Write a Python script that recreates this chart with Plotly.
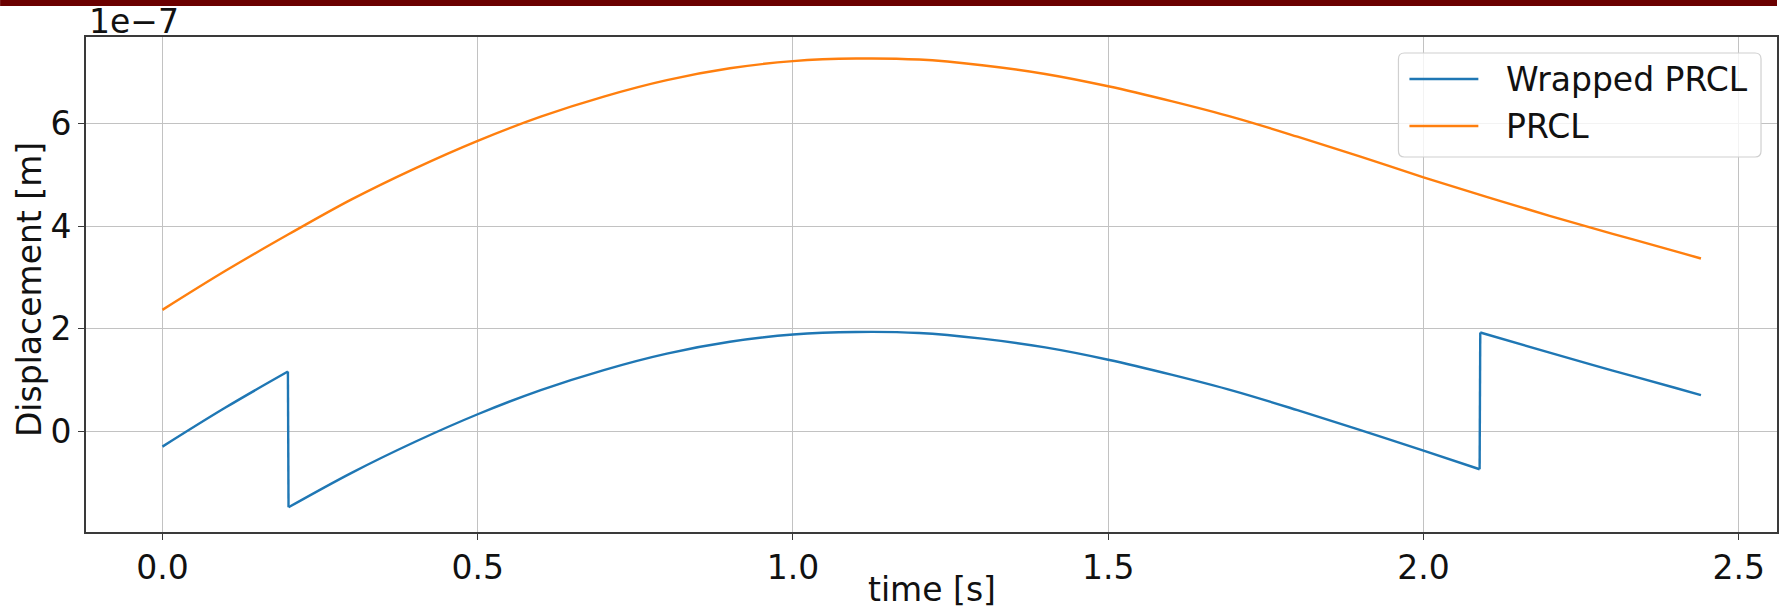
import plotly.graph_objects as go

# ---- data (displacement in units of 1e-7 m) ----
time_s = [0.0, 0.1, 0.2, 0.3, 0.4, 0.5, 0.6, 0.7, 0.8, 0.9, 1.0, 1.1, 1.2,
          1.3, 1.4, 1.5, 1.6, 1.7, 1.8, 1.9, 2.0, 2.1, 2.2, 2.3, 2.4, 2.44]
prcl_e7 = [2.37, 3.13, 3.84, 4.52, 5.12, 5.66, 6.13, 6.52, 6.84, 7.07, 7.21, 7.26, 7.24,
           7.13, 6.96, 6.72, 6.43, 6.11, 5.74, 5.35, 4.95, 4.57, 4.20, 3.85, 3.51, 3.37]

wrapped_time_s = [0.0, 0.1, 0.199, 0.2, 0.3, 0.4, 0.5, 0.6, 0.7, 0.8, 0.9, 1.0, 1.1,
                  1.2, 1.3, 1.4, 1.5, 1.6, 1.7, 1.8, 1.9, 2.0, 2.089, 2.09, 2.2, 2.3,
                  2.4, 2.44]
wrapped_e7 = [-0.29, 0.47, 1.17, -1.47, -0.80, -0.20, 0.34, 0.81, 1.20, 1.52, 1.75, 1.89, 1.94,
              1.92, 1.81, 1.64, 1.40, 1.11, 0.79, 0.42, 0.03, -0.37, -0.73, 1.93, 1.54, 1.19,
              0.85, 0.71]

SCALE = 1e-7
x_ticks = [0.0, 0.5, 1.0, 1.5, 2.0, 2.5]
y_ticks = [0, 2, 4, 6]

BLUE = "#1f77b4"
ORANGE = "#ff7f0e"
FONT = "DejaVu Sans"
FS = 33
LW = 2.4

# ---- page geometry (pixels) ----
W, H = 1779, 610
L, R, T, B = 86, 1779, 37, 532
PW, PH = R - L, B - T


def paper(x, y):
    return (x - L) / PW, (B - y) / PH


fig = go.Figure()

# the wrapped signal: smooth pieces between the phase jumps, straight jump segments
jumps = [i for i in range(1, len(wrapped_e7))
         if abs(wrapped_e7[i] - wrapped_e7[i - 1]) > 2.0]
bounds = [0] + jumps + [len(wrapped_e7)]
for k in range(len(bounds) - 1):
    a, b = bounds[k], bounds[k + 1]
    fig.add_trace(go.Scatter(x=wrapped_time_s[a:b], y=[v * SCALE for v in wrapped_e7[a:b]],
                             mode="lines", name="Wrapped PRCL", line_shape="spline",
                             line=dict(color=BLUE, width=LW), showlegend=False))
for j in jumps:
    fig.add_trace(go.Scatter(x=wrapped_time_s[j - 1:j + 1],
                             y=[v * SCALE for v in wrapped_e7[j - 1:j + 1]],
                             mode="lines", name="Wrapped PRCL",
                             line=dict(color=BLUE, width=LW), showlegend=False))

fig.add_trace(go.Scatter(x=time_s, y=[v * SCALE for v in prcl_e7],
                         mode="lines", name="PRCL", line_shape="spline",
                         line=dict(color=ORANGE, width=LW), showlegend=False))

axis_common = dict(
    showgrid=True, gridcolor="#c2c2c2", gridwidth=1.2,
    zeroline=False, showline=True, linecolor="#3a3a3a", linewidth=1.6,
    mirror=True, ticks="outside", ticklen=6, tickwidth=1.4, tickcolor="#3a3a3a",
    tickfont=dict(family=FONT, size=FS, color="#111111"),
)

fig.update_xaxes(range=[-0.1212, 2.5606], tickvals=x_ticks,
                 ticktext=[f"{t:.1f}" for t in x_ticks], **axis_common)
fig.update_yaxes(range=[-1.951 * SCALE, 7.679 * SCALE],
                 tickvals=[v * SCALE for v in y_ticks],
                 ticktext=[str(v) for v in y_ticks], **axis_common)

shapes = []
annotations = []

# dark band along the top edge
x0, _ = paper(0, 0)
x1, _ = paper(W, 0)
_, yb0 = paper(0, 6)
_, yb1 = paper(0, 0)
shapes.append(dict(type="rect", xref="paper", yref="paper", x0=x0, x1=x1, y0=yb0, y1=yb1,
                   fillcolor="#6b0000", line=dict(width=0), layer="above"))

# legend frame with rounded corners
lx0, ly0, lx1, ly1, rad = 1400, 53, 1763, 157, 6


def P(x, y):
    a, b = paper(x, y)
    return f"{a:.6f},{b:.6f}"


path = (f"M{P(lx0 + rad, ly0)} L{P(lx1 - rad, ly0)} Q{P(lx1, ly0)} {P(lx1, ly0 + rad)} "
        f"L{P(lx1, ly1 - rad)} Q{P(lx1, ly1)} {P(lx1 - rad, ly1)} "
        f"L{P(lx0 + rad, ly1)} Q{P(lx0, ly1)} {P(lx0, ly1 - rad)} "
        f"L{P(lx0, ly0 + rad)} Q{P(lx0, ly0)} {P(lx0 + rad, ly0)} Z")
shapes.append(dict(type="path", xref="paper", yref="paper", path=path,
                   fillcolor="rgba(255,255,255,0.8)",
                   line=dict(color="#d0d0d0", width=1.2), layer="above"))

for label, color, yc in [("Wrapped PRCL", BLUE, 79), ("PRCL", ORANGE, 126)]:
    a0, b0 = paper(1411, yc)
    a1, _ = paper(1480, yc)
    shapes.append(dict(type="line", xref="paper", yref="paper", x0=a0, x1=a1, y0=b0, y1=b0,
                       line=dict(color=color, width=LW), layer="above"))
    tx, ty = paper(1506, yc)
    annotations.append(dict(text=label, xref="paper", yref="paper", x=tx, y=ty,
                            xanchor="left", yanchor="middle", showarrow=False,
                            font=dict(family=FONT, size=FS, color="#111111")))

# axis titles and exponent label
tx, ty = paper(933, 589)
annotations.append(dict(text="time [s]", xref="paper", yref="paper", x=tx, y=ty,
                        xanchor="center", yanchor="middle", showarrow=False,
                        font=dict(family=FONT, size=FS, color="#111111")))
tx, ty = paper(29, 290)
annotations.append(dict(text="Displacement [m]", xref="paper", yref="paper", x=tx, y=ty,
                        xanchor="center", yanchor="middle", textangle=-90, showarrow=False,
                        font=dict(family=FONT, size=FS, color="#111111")))
tx, ty = paper(87, 21)
annotations.append(dict(text="1e\u22127", xref="paper", yref="paper", x=tx, y=ty,
                        xanchor="left", yanchor="middle", showarrow=False,
                        font=dict(family=FONT, size=FS, color="#111111")))

fig.update_layout(
    width=W, height=H,
    margin=dict(l=L, r=W - R, t=T, b=H - B, pad=0),
    paper_bgcolor="white", plot_bgcolor="white",
    shapes=shapes, annotations=annotations,
    showlegend=False,
    font=dict(family=FONT, size=FS, color="#111111"),
)

fig.write_html("out.html")
